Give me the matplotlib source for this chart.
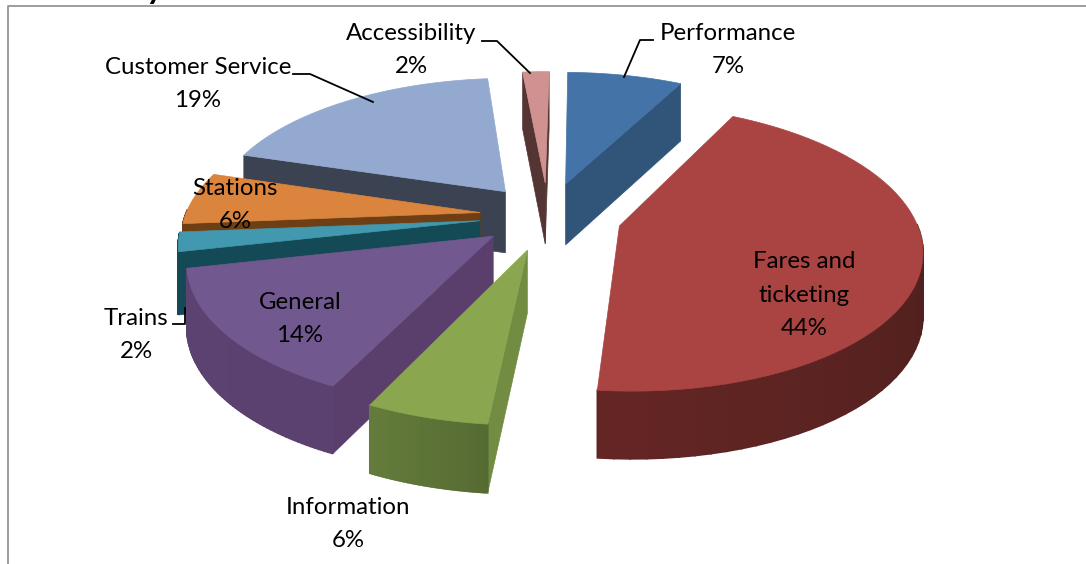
import numpy as np
import matplotlib
matplotlib.use("Agg")
import matplotlib.pyplot as plt
from matplotlib.patches import Polygon

categories = ["Performance", "Fares and\nticketing", "Information", "General",
              "Trains", "Stations", "Customer Service", "Accessibility"]
values = [7.4, 43.9, 5.55, 14.4, 2.2, 6.0, 18.8, 1.7]
top_colors = ["#4473a8", "#a94442", "#8aa64f", "#71588f", "#4198af", "#db843d", "#93a9cf", "#d09291"]
cut_colors = ["#315479", "#4a1f1e", "#728c42", "#5a3f6c", "#134a55", "#6e3f14", "#3b4252", "#553434"]
wall_colors = [("#315479", "#2a4766"), ("#3e1a18", "#642624"), ("#566b33", "#647c3b"), ("#5a4170", "#5c4270"),
               ("#134a55", "#134a55"), ("#6e3f14", "#6e3f14"), ("#3b4252", "#3b4252"), ("#553434", "#553434")]
explodes = [0.25, 0.25, 0.25, 0.232, 0.232, 0.232, 0.235, 0.25]
draw_order = [7, 0, 6, 5, 4, 3, 1, 2]
label_pos = [(728, 50), (804, 295), (348, 524), (300, 319), (136, 335), (235, 205), (198, 84), (411, 50)]
leaders = [[(653, 40), (640, 40), (624, 77)],
           [(293, 74), (310, 74), (373, 102)],
           [(482, 41), (497, 41), (530, 73)],
           [(173, 324), (185, 324), (185, 308)]]

cx, cy = 548, 216
radius, squash, persp, depth = 295, 0.465, 0.15, 62
start_angle = 1

plt.rcParams["font.family"] = ["Lato", "DejaVu Sans"]
fig = plt.figure(figsize=(10.86, 5.64), dpi=100)
ax = fig.add_axes([0, 0, 1, 1])
ax.set_xlim(0, 1086)
ax.set_ylim(564, 0)
ax.axis("off")


def project(x, y, drop=0.0):
    s = 1 / (1 + persp * y)
    return cx + radius * x * s, cy - radius * squash * y * s + drop * s ** 0.5


def hex_mix(a, b, t):
    ca = np.array(matplotlib.colors.to_rgb(a))
    cb = np.array(matplotlib.colors.to_rgb(b))
    return ca + (cb - ca) * t


edges = np.radians(np.concatenate([[0], np.cumsum(values)]) * 3.6 + start_angle)

for i in draw_order:
    t0, t1 = edges[i], edges[i + 1]
    mid = (t0 + t1) / 2
    ox, oy = explodes[i] * np.sin(mid), explodes[i] * np.cos(mid)
    ts = np.linspace(t0, t1, 60)
    xs, ys = ox + np.sin(ts), oy + np.cos(ts)
    z = draw_order.index(i) * 3

    # cut faces first, only those turned to the viewer
    for t, show in ((t0, np.sin(t0) < -1e-6), (t1, np.sin(t1) > 1e-6)):
        if show:
            rx, ry = ox + np.sin(t), oy + np.cos(t)
            poly = [project(ox, oy), project(rx, ry), project(rx, ry, depth), project(ox, oy, depth)]
            ax.add_patch(Polygon(poly, closed=True, fc=cut_colors[i], ec=cut_colors[i], lw=0.5, zorder=2 + z))

    # outer wall, front half only
    for j in range(len(ts) - 1):
        if np.cos((ts[j] + ts[j + 1]) / 2) < 0.02:
            poly = [project(xs[j], ys[j]), project(xs[j + 1], ys[j + 1]),
                    project(xs[j + 1], ys[j + 1], depth), project(xs[j], ys[j], depth)]
            c = hex_mix(wall_colors[i][0], wall_colors[i][1], j / (len(ts) - 2))
            ax.add_patch(Polygon(poly, closed=True, fc=c, ec=c, lw=1.2, zorder=3 + z))

    top = [project(ox, oy)] + [project(a, b) for a, b in zip(xs, ys)]
    ax.add_patch(Polygon(top, closed=True, fc=top_colors[i], ec=top_colors[i], lw=0.5, zorder=4 + z))

for name, val, pos in zip(categories, values, label_pos):
    ax.text(pos[0], pos[1], f"{name}\n{round(val)}%", ha="center", va="center", fontsize=17.3, linespacing=1.72, color="black", zorder=60)

for line in leaders:
    ax.plot([p[0] for p in line], [p[1] for p in line], color="black", lw=1.3, zorder=59)

# chart frame, the picture crops it at right and bottom
ax.plot([1086, 7.5, 7.5], [5.5, 5.5, 564], color="#8c8c8c", lw=1.2, zorder=1)
ax.text(155, -10, "y", ha="center", va="center", fontsize=24, fontweight="bold", color="black", clip_on=False)

fig.savefig("out.png", dpi=100)
